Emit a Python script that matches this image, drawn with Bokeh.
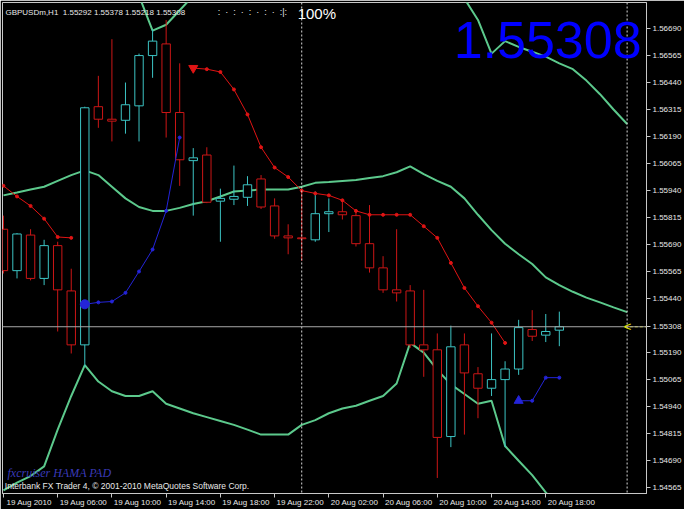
from bokeh.plotting import figure
from bokeh.models import ColumnDataSource, FixedTicker, Span, Label, NumeralTickFormatter, Range1d, LinearAxis
from bokeh.embed import file_html
from bokeh.resources import INLINE

symbol = "GBPUSDm,H1"

# hourly bars, index 0 = 19 Aug 2010 02:00
bar_index = list(range(42))
opens = [1.55760, 1.55568, 1.55733, 1.55532, 1.55684, 1.55474, 1.55224, 1.56328, 1.56270, 1.56265,
         1.56332, 1.56565, 1.56619, 1.56301, 1.56078, 1.56104, 1.55890, 1.55899, 1.55908, 1.55993,
         1.55868, 1.55729, 1.55720, 1.55711, 1.55832, 1.55841, 1.55823, 1.55693, 1.55581, 1.55479,
         1.55474, 1.55224, 1.55201, 1.54799, 1.55224, 1.55090, 1.55023, 1.55063, 1.55112, 1.55295,
         1.55269, 1.55292]
highs = [1.55823, 1.55742, 1.55760, 1.55711, 1.55702, 1.55577, 1.56328, 1.56471, 1.56641, 1.56440,
         1.56574, 1.56686, 1.56730, 1.56529, 1.56136, 1.56140, 1.55948, 1.56055, 1.56006, 1.56011,
         1.55903, 1.55783, 1.55935, 1.55935, 1.55903, 1.55894, 1.55850, 1.55872, 1.55635, 1.55760,
         1.55501, 1.55479, 1.55277, 1.55313, 1.55277, 1.55121, 1.55277, 1.55148, 1.55340, 1.55385,
         1.55367, 1.55378]
lows = [1.55555, 1.55532, 1.55523, 1.55501, 1.55286, 1.55184, 1.55121, 1.56230, 1.56167, 1.56203,
        1.56167, 1.56462, 1.56185, 1.55961, 1.55823, 1.55881, 1.55702, 1.55872, 1.55868, 1.55854,
        1.55716, 1.55644, 1.55613, 1.55702, 1.55747, 1.55805, 1.55680, 1.55559, 1.55465, 1.55425,
        1.55210, 1.55076, 1.54607, 1.54750, 1.54808, 1.54884, 1.54987, 1.54750, 1.55085, 1.55242,
        1.55237, 1.55218]
closes = [1.55568, 1.55738, 1.55532, 1.55684, 1.55479, 1.55224, 1.56323, 1.56270, 1.56261, 1.56337,
          1.56565, 1.56632, 1.56301, 1.56082, 1.56091, 1.55885, 1.55903, 1.55912, 1.55966, 1.55863,
          1.55729, 1.55720, 1.55716, 1.55832, 1.55841, 1.55827, 1.55693, 1.55581, 1.55479, 1.55465,
          1.55224, 1.55201, 1.54795, 1.55215, 1.55094, 1.55023, 1.55063, 1.55112, 1.55304, 1.55264,
          1.55286, 1.55308]

# shifted envelope bands (extend 5 bars past the last bar)
band_index = list(range(47))
band_upper = [1.57285, 1.57276, 1.57271, 1.57253, 1.57137, 1.57034, 1.56936, 1.56967, 1.56905, 1.56864,
              1.56842, 1.56681, 1.56708, 1.56775, 1.56842, 1.56891, 1.56954, 1.57016, 1.57048, 1.57079,
              1.57079, 1.57079, 1.57061, 1.57074, 1.57052, 1.57039, 1.57034, 1.57030, 1.57025, 1.57003,
              1.56869, 1.56842, 1.56860, 1.56873, 1.56829, 1.56730, 1.56574, 1.56632, 1.56605, 1.56583,
              1.56560, 1.56529, 1.56502, 1.56449, 1.56386, 1.56315, 1.56248]
band_middle = [1.55917, 1.55930, 1.55944, 1.55957, 1.55984, 1.56011, 1.56033, 1.56011, 1.55957, 1.55903,
               1.55863, 1.55845, 1.55845, 1.55859, 1.55877, 1.55890, 1.55912, 1.55935, 1.55939, 1.55944,
               1.55944, 1.55944, 1.55957, 1.55975, 1.55979, 1.55984, 1.55988, 1.55997, 1.56006, 1.56024,
               1.56051, 1.56015, 1.55984, 1.55957, 1.55903, 1.55827, 1.55756, 1.55693, 1.55644, 1.55599,
               1.55537, 1.55501, 1.55470, 1.55443, 1.55421, 1.55398, 1.55376]
band_lower = [1.54549, 1.54585, 1.54616, 1.54661, 1.54831, 1.54987, 1.55130, 1.55054, 1.55009, 1.54987,
              1.54987, 1.55009, 1.54951, 1.54929, 1.54907, 1.54889, 1.54871, 1.54853, 1.54831, 1.54808,
              1.54808, 1.54808, 1.54853, 1.54875, 1.54907, 1.54929, 1.54942, 1.54965, 1.54987, 1.55045,
              1.55233, 1.55188, 1.55108, 1.55041, 1.54996, 1.54951, 1.54965, 1.54755, 1.54687, 1.54620,
              1.54540, 1.54473, 1.54437, 1.54437, 1.54455, 1.54482, 1.54504]

# HAMA PAD trend lines
red_a_index = [0, 1, 2, 3, 4, 5]
red_a = [1.55961, 1.55912, 1.55868, 1.55809, 1.55724, 1.55720]
red_b_index = list(range(14, 38))
red_b = [1.56507, 1.56502, 1.56489, 1.56408, 1.56292, 1.56140, 1.56046, 1.56002, 1.55939, 1.55926,
         1.55917, 1.55894, 1.55845, 1.55827, 1.55827, 1.55827, 1.55827, 1.55774, 1.55720, 1.55604,
         1.55488, 1.55403, 1.55327, 1.55233]
blue_a_index = list(range(6, 14))
blue_a = [1.55412, 1.55421, 1.55425, 1.55465, 1.55564, 1.55666, 1.55845, 1.56185]
blue_b_index = [38, 39, 40, 41]
blue_b = [1.54965, 1.54965, 1.55072, 1.55072]

time_tick_pos = [0, 4, 8, 12, 16, 20, 24, 28, 32, 36, 40]
time_tick_labels = ["19 Aug 2010", "19 Aug 06:00", "19 Aug 10:00", "19 Aug 14:00", "19 Aug 18:00",
                    "19 Aug 22:00", "20 Aug 02:00", "20 Aug 06:00", "20 Aug 10:00", "20 Aug 14:00",
                    "20 Aug 18:00"]
price_ticks = [1.54565, 1.54690, 1.54815, 1.54940, 1.55065, 1.55190, 1.55440, 1.55565, 1.55690,
               1.55815, 1.55940, 1.56065, 1.56190, 1.56315, 1.56440, 1.56565, 1.56690]
day_separators = [22, 46]

BULL = "#3cc4c4"
BEAR = "#cc1616"
GREEN = "#5cc98c"
RED = "#e01414"
BLUE = "#2424d8"
FONT = "Liberation Sans"
X_END = 47.43
NB = "\u00a0"

p = figure(width=684, height=509, output_backend="svg", toolbar_location=None,
           x_range=Range1d(-0.07, X_END), y_range=Range1d(1.54535, 1.56811),
           y_axis_location="right", min_border_left=2, min_border_top=2,
           min_border_right=0, min_border_bottom=0,
           background_fill_color="black", border_fill_color="black",
           outline_line_color="#c8c8c8")
p.xgrid.visible = False
p.ygrid.visible = False

# tick marks at the true bar times (labels carried by a second axis)
xa = p.xaxis[0]
xa.ticker = FixedTicker(ticks=time_tick_pos)
xa.major_label_overrides = {t: "" for t in time_tick_pos}
xa.major_label_text_font_size = "1px"
xa.major_label_standoff = 0

# labels start just right of each tick, as MetaTrader draws them
label_shift = 1.9
shifted = [t + label_shift for t in time_tick_pos]
xlab = LinearAxis(ticker=FixedTicker(ticks=shifted),
                  major_label_overrides={s: l for s, l in zip(shifted, time_tick_labels)})
xlab.major_tick_out = 0
xlab.major_tick_in = 0
xlab.axis_line_color = None
xlab.major_tick_line_color = None
xlab.minor_tick_line_color = None
xlab.major_label_standoff = 0
xlab.major_label_text_color = "#e8e8e8"
xlab.major_label_text_font = FONT
xlab.major_label_text_font_size = "8px"
p.add_layout(xlab, "below")

ya = p.yaxis[0]
ya.ticker = FixedTicker(ticks=price_ticks + [closes[-1]])
ya.formatter = NumeralTickFormatter(format="0.00000")
ya.major_label_text_color = "#e8e8e8"
ya.major_label_text_font = FONT
ya.major_label_text_font_size = "8px"
ya.major_label_standoff = 2
for ax in (xa, ya):
    ax.major_tick_out = 4
    ax.major_tick_in = 0
    ax.major_tick_line_color = "#c8c8c8"
    ax.minor_tick_line_color = None
    ax.axis_line_color = "#c8c8c8"

# separators and current price line
for s in day_separators:
    p.add_layout(Span(location=s, dimension="height", line_color="#d8d8d8", line_dash="2 2", line_width=1))
p.add_layout(Span(location=closes[-1], dimension="width", line_color="#a8a8a8", line_width=1))

# bands
p.line(band_index, band_upper, line_color=GREEN, line_width=2)
p.line(band_index, band_middle, line_color=GREEN, line_width=2)
p.line(band_index, band_lower, line_color=GREEN, line_width=2)

# candles
colors = [BULL if c >= o else BEAR for o, c in zip(opens, closes)]
src = ColumnDataSource(dict(x=bar_index, o=opens, h=highs, l=lows, c=closes,
                            top=[max(o, c) for o, c in zip(opens, closes)],
                            bottom=[min(o, c) for o, c in zip(opens, closes)],
                            color=colors))
p.segment(x0="x", y0="h", x1="x", y1="l", line_color="color", line_width=1, source=src)
p.vbar(x="x", top="top", bottom="bottom", width=0.62, fill_color="black",
       line_color="color", line_width=1, source=src)

# trend lines
p.line(red_a_index, red_a, line_color=RED, line_width=1)
p.scatter(red_a_index, red_a, size=3, color=RED)
p.line(red_b_index, red_b, line_color=RED, line_width=1)
p.scatter(red_b_index[1:], red_b[1:], size=3, color=RED)
p.scatter([red_b_index[0]], [red_b[0]], marker="inverted_triangle", size=9, color=RED)
p.line(blue_a_index, blue_a, line_color=BLUE, line_width=1)
p.scatter(blue_a_index[1:], blue_a[1:], size=3, color=BLUE)
p.scatter([blue_a_index[0]], [blue_a[0]], marker="circle", size=9, color=BLUE)
p.line(blue_b_index, blue_b, line_color=BLUE, line_width=1)
p.scatter(blue_b_index[1:], blue_b[1:], size=3, color=BLUE)
p.scatter([blue_b_index[0]], [blue_b[0]], marker="triangle", size=9, color=BLUE)

# current price marker
p.segment(x0=[46.2], y0=[closes[-1]], x1=[X_END], y1=[closes[-1]], line_color="#e8e800",
          line_dash="3 2", line_width=1)
p.add_layout(Label(x=45.75, y=closes[-1], text="<", text_color="#e8e800", text_font=FONT,
                   text_font_size="13px", text_baseline="middle"))

# texts
title = f"{symbol}{NB}{NB}{opens[-1]:.5f} {highs[-1]:.5f} {lows[-1]:.5f} {closes[-1]:.5f}"
p.add_layout(Label(x=0, y=1.56766, x_offset=2, text=title, text_color="#e8e8e8", text_font=FONT,
                   text_font_size="8px", text_baseline="middle"))
gap = NB * 2
ruler = gap.join([":", "\u00b7", ":", "\u00b7", ":", "\u00b7", ":", "\u00b7", ":"]) + "|:"
p.add_layout(Label(x=15.8, y=1.56766, text=ruler, text_color="#e8e8e8", text_font=FONT,
                   text_font_size="9px", text_baseline="middle"))
p.add_layout(Label(x=21.7, y=1.56762, text="100%", text_color="white", text_font=FONT,
                   text_font_size="15px", text_baseline="middle"))
p.add_layout(Label(x=47.07, y=1.56636, text=f"{closes[-1]:.5f}", text_color="#0000ff", text_font=FONT,
                   text_font_size="52px", text_baseline="middle", text_align="right"))
p.add_layout(Label(x=0.3, y=1.54629, text="fxcruiser HAMA PAD", text_color="#3a3ab8",
                   text_font="Liberation Serif", text_font_style="italic",
                   text_font_size="12px", text_baseline="middle"))
p.add_layout(Label(x=0.1, y=1.54571, text="Interbank FX Trader 4, \u00a9 2001-2010 MetaQuotes Software Corp.",
                   text_color="#e8e8e8", text_font=FONT, text_font_size="8.5px", text_baseline="middle"))

open("out.html", "w").write(file_html(p, INLINE))
